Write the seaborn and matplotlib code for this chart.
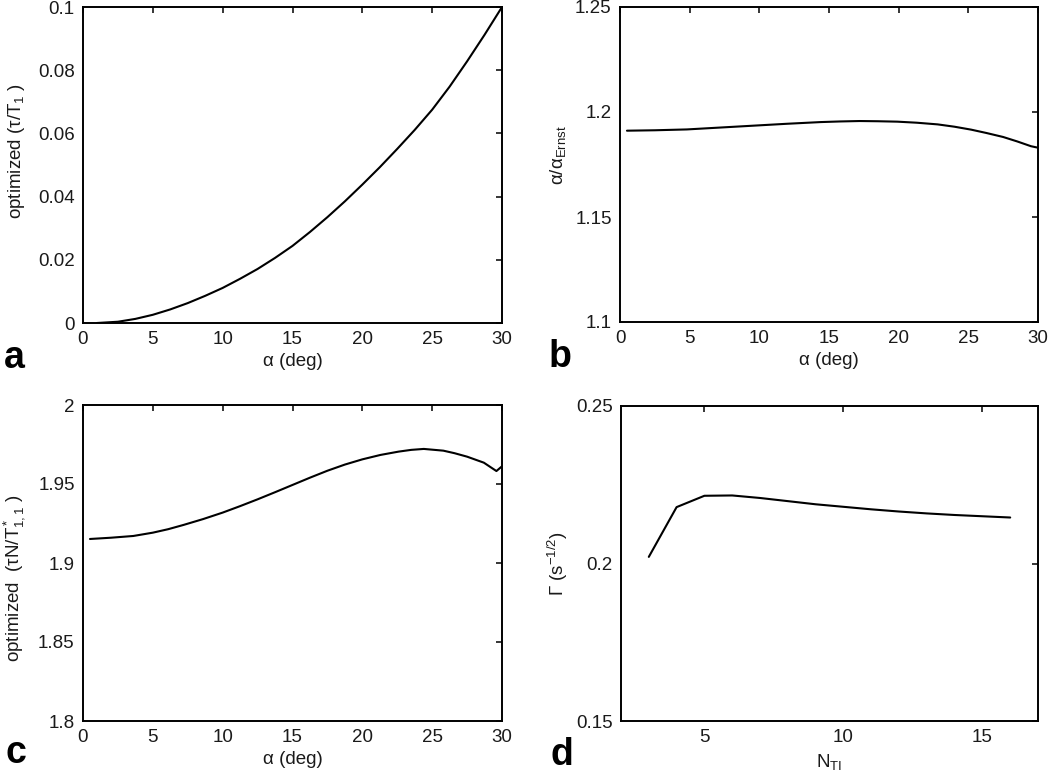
import numpy as np
import pandas as pd
import matplotlib
matplotlib.use("Agg")
import matplotlib.pyplot as plt
import seaborn as sns
from matplotlib.ticker import FuncFormatter

# ---------------- data ----------------
alpha_a = [1.0, 2.5, 3.75, 5.0, 6.25, 7.5, 8.75, 10.0, 11.25, 12.5, 13.75, 15.0,
           16.25, 17.5, 18.75, 20.0, 21.25, 22.5, 23.75, 25.0, 26.25, 27.5, 28.75, 30.0]
tau_a   = [0.0, 0.0004, 0.0013, 0.0026, 0.0043, 0.0063, 0.0086, 0.0111, 0.0140,
           0.0171, 0.0206, 0.0244, 0.0288, 0.0335, 0.0385, 0.0438, 0.0493, 0.0551,
           0.0611, 0.0675, 0.0748, 0.0828, 0.0912, 0.1000]

alpha_b = [0.5, 2.5, 4.8, 7.2, 9.6, 12.0, 14.4, 15.8, 17.2, 18.5, 19.9, 21.3, 22.8,
           24.0, 25.2, 26.3, 27.5, 28.5, 29.5, 30.0]
ratio_b = [1.1911, 1.1913, 1.1917, 1.1926, 1.1935, 1.1944, 1.1952, 1.1955, 1.1957,
           1.1956, 1.1954, 1.1949, 1.1941, 1.1930, 1.1916, 1.1900, 1.1881, 1.1860,
           1.1837, 1.1830]

alpha_c = [0.5, 2.0, 3.6, 5.0, 6.1, 7.2, 8.6, 10.0, 11.25, 12.5, 13.75, 15.0, 16.25,
           17.5, 18.75, 20.0, 21.3, 22.6, 23.5, 24.4, 25.8, 26.6, 27.5, 28.7, 29.6, 30.0]
tauN_c  = [1.9152, 1.9160, 1.9171, 1.9192, 1.9214, 1.9241, 1.9278, 1.9319, 1.9360,
           1.9403, 1.9448, 1.9494, 1.9540, 1.9584, 1.9623, 1.9656, 1.9684, 1.9705,
           1.9716, 1.9722, 1.9711, 1.9695, 1.9673, 1.9635, 1.9582, 1.9612]

n_ti_d  = [3, 4, 5, 6, 7, 8, 9, 10, 11, 12, 13, 14, 15, 16]
gamma_d = [0.2021, 0.2179, 0.2215, 0.2216, 0.2208, 0.2198, 0.2188, 0.2180, 0.2172,
           0.2165, 0.2159, 0.2154, 0.2150, 0.2146]

# ---------------- style ----------------
sns.set_theme(style="white")
plt.rcParams['font.family'] = ['Liberation Sans', 'DejaVu Sans']
plt.rcParams['mathtext.fontset'] = 'custom'
plt.rcParams['mathtext.rm'] = 'Liberation Sans'
plt.rcParams['mathtext.it'] = 'Liberation Sans'
plt.rcParams['mathtext.default'] = 'regular'

fig = plt.figure(figsize=(10.5, 7.73), dpi=100)
W, H = 1050, 773

def make_ax(x0, y0, x1, y1):
    return fig.add_axes([x0 / W, 1 - y1 / H, (x1 - x0) / W, (y1 - y0) / H])

ax_a = make_ax(83, 7, 502, 323)
ax_b = make_ax(620, 7, 1038, 322)
ax_c = make_ax(83, 405, 502, 721)
ax_d = make_ax(621, 406, 1038, 721)

fmt = FuncFormatter(lambda v, p: f"{v:g}")
TXT = "#1a1a1a"

def style(ax):
    for s in ax.spines.values():
        s.set_visible(True)
        s.set_linewidth(1.4)
        s.set_color("black")
    ax.tick_params(direction='in', length=4, width=1.1, top=True, right=True,
                   labelsize=13.5, colors="black", labelcolor=TXT, pad=6)
    ax.yaxis.set_major_formatter(fmt)
    ax.xaxis.set_major_formatter(fmt)
    ax.grid(False)

lw = 1.5
sns.lineplot(x=alpha_a, y=tau_a, ax=ax_a, color="black", linewidth=lw)
sns.lineplot(x=alpha_b, y=ratio_b, ax=ax_b, color="black", linewidth=lw)
sns.lineplot(x=alpha_c, y=tauN_c, ax=ax_c, color="black", linewidth=lw)
sns.lineplot(x=n_ti_d, y=gamma_d, ax=ax_d, color="black", linewidth=lw)

for ax in (ax_a, ax_b, ax_c, ax_d):
    style(ax)

ax_a.set_xlim(0, 30); ax_a.set_ylim(0, 0.1)
ax_a.set_xticks([0, 5, 10, 15, 20, 25, 30]); ax_a.set_yticks([0, 0.02, 0.04, 0.06, 0.08, 0.1])
ax_b.set_xlim(0, 30); ax_b.set_ylim(1.1, 1.25)
ax_b.set_xticks([0, 5, 10, 15, 20, 25, 30]); ax_b.set_yticks([1.1, 1.15, 1.2, 1.25])
ax_c.set_xlim(0, 30); ax_c.set_ylim(1.8, 2.0)
ax_c.set_xticks([0, 5, 10, 15, 20, 25, 30]); ax_c.set_yticks([1.8, 1.85, 1.9, 1.95, 2.0])
ax_d.set_xlim(2, 17); ax_d.set_ylim(0.15, 0.25)
ax_d.set_xticks([5, 10, 15]); ax_d.set_yticks([0.15, 0.2, 0.25])

lab_kw = dict(fontsize=13.5, color=TXT)
ax_a.set_xlabel("α (deg)", **lab_kw)
ax_b.set_xlabel("α (deg)", **lab_kw)
ax_c.set_xlabel("α (deg)", **lab_kw)
ax_d.set_xlabel(r"N$_{TI}$", **lab_kw)
ax_a.set_ylabel(r"optimized (τ/T$_1$ )", **lab_kw)
ax_b.set_ylabel(r"α/α$_{Ernst}$", **lab_kw)
ax_c.set_ylabel(r"optimized  (τN/T$^*_{1,1}$ )", **lab_kw)
ax_d.set_ylabel(r"Γ (s$^{-1/2}$)", **lab_kw)

ax_a.xaxis.set_label_coords(0.5, -0.095)
ax_b.xaxis.set_label_coords(0.5, -0.095)
ax_c.xaxis.set_label_coords(0.5, -0.095)
ax_d.xaxis.set_label_coords(0.5, -0.098)
ax_a.yaxis.set_label_coords(-0.134, 0.543)
ax_b.yaxis.set_label_coords(-0.124, 0.53)
ax_c.yaxis.set_label_coords(-0.133, 0.452)
ax_d.yaxis.set_label_coords(-0.122, 0.5)

letter_kw = dict(fontsize=27, fontweight='bold', va='baseline', ha='left', color='black')
fig.text(4 / W, 1 - 368 / H, "a", **letter_kw)
fig.text(549 / W, 1 - 367 / H, "b", **letter_kw)
fig.text(5 / W, 1 - 763 / H, "c", **letter_kw)
fig.text(551 / W, 1 - 765 / H, "d", **letter_kw)

fig.savefig("out.png", dpi=100, facecolor="white")
